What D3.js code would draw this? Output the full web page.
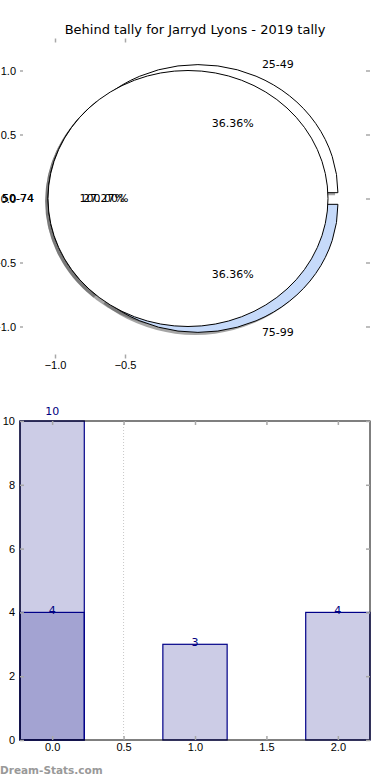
<!DOCTYPE html>
<html>
<head>
<meta charset="utf-8">
<script src="https://cdn.jsdelivr.net/npm/d3@7"></script>
<style>
    body { margin: 0; background: #fff; }
    svg { display: block; font-family: "DejaVu Sans", sans-serif; }
    .tick line { stroke: #a8a8a8; stroke-width: 1.5; }
    .domain { display: none; }
</style>
</head>
<body>
<svg id="chart" width="390" height="780"></svg>
<script>
/**
 * Data.
 */
const title = 'Behind tally for Jarryd Lyons - 2019 tally';

// Pie: tally by range, plus the single full wedge drawn on top
const pieLabels = ['25-49', '50-74', '75-99'],
    pieValues = [4, 3, 4],
    pieColors = ['#ffffff', '#ffffff', '#c6dafa'];
const fullLabels = ['50-74'],
    fullValues = [10];
const explode = 0.05;

// Bars
const barPositions = [0],
    barTotals = [10];
const behindPositions = [0, 1, 2],
    behindValues = [4, 3, 4];
const barWidth = 0.45;

const pieXTicks = [-1, -0.5],
    pieYTicks = [-1, -0.5, 0, 0.5, 1],
    barXTicks = [0, 0.5, 1, 1.5, 2],
    barYTicks = [0, 2, 4, 6, 8, 10];

/**
 * Layout.
 */
const svg = d3.select('#chart');
const pieBox = { left: 20, right: 370, top: 38.5, bottom: 358.5 },
    barBox = { left: 20, right: 370, top: 421, bottom: 740 };

const tickFmt = d => d3.format('.1f')(d).replace('-', '\u2212');
const fontSize = 11;

svg.append('text')
    .attr('x', 195).attr('y', 34)
    .attr('text-anchor', 'middle')
    .attr('font-size', 13)
    .text(title);

/**
 * Pie.
 */
const px = d3.scaleLinear().domain([-1.25, 1.25]).range([pieBox.left, pieBox.right]),
    py = d3.scaleLinear().domain([-1.25, 1.25]).range([pieBox.bottom, pieBox.top]);
const kx = px(1) - px(0), ky = py(0) - py(1);

const pie = d3.pie().sort(null).startAngle(0).endAngle(2 * Math.PI);
const arc = d3.arc().innerRadius(0).outerRadius(1);

// Wedge in matplotlib angles (counterclockwise from east), drawn in unit space
function wedges(values, labels, colors) {
    return pie(values).map((p, i) => {
        const mid = (p.startAngle + p.endAngle) / 2;
        return {
            label: labels[i],
            pct: d3.format('.2f')(100 * p.value / d3.sum(values)) + '%',
            color: colors[i],
            mid: mid,
            cx: explode * Math.cos(mid),
            cy: explode * Math.sin(mid),
            path: arc({ startAngle: Math.PI / 2 - p.endAngle, endAngle: Math.PI / 2 - p.startAngle })
        };
    });
}

const tally = wedges(pieValues, pieLabels, pieColors),
    full = wedges(fullValues, fullLabels, ['#ffffff']);
const allWedges = tally.concat(full);

const pieG = svg.append('g');

// Shadows under every wedge
pieG.selectAll('.shadow').data(allWedges).enter().append('path')
    .attr('class', 'shadow')
    .attr('transform', d => `translate(${px(d.cx - 0.02)},${py(d.cy - 0.02)}) scale(${kx},${ky})`)
    .attr('d', d => d.path)
    .attr('fill', '#4d4d4d')
    .attr('fill-opacity', 0.5);

pieG.selectAll('.wedge').data(allWedges).enter().append('path')
    .attr('class', 'wedge')
    .attr('transform', d => `translate(${px(d.cx)},${py(d.cy)}) scale(${kx},${ky})`)
    .attr('d', d => d.path)
    .attr('fill', d => d.color)
    .attr('stroke', '#000')
    .attr('stroke-width', 1)
    .attr('vector-effect', 'non-scaling-stroke');

// Labels and percentages
pieG.selectAll('.label').data(allWedges).enter().append('text')
    .attr('x', d => px(d.cx + 1.1 * Math.cos(d.mid)))
    .attr('y', d => py(d.cy + 1.1 * Math.sin(d.mid)))
    .attr('dy', '0.35em')
    .attr('text-anchor', d => Math.cos(d.mid) > 0 ? 'start' : 'end')
    .attr('font-size', fontSize)
    .text(d => d.label);

pieG.selectAll('.pct').data(allWedges).enter().append('text')
    .attr('x', d => px(d.cx + 0.6 * Math.cos(d.mid)))
    .attr('y', d => py(d.cy + 0.6 * Math.sin(d.mid)))
    .attr('dy', '0.35em')
    .attr('text-anchor', 'middle')
    .attr('font-size', fontSize)
    .text(d => d.pct);

// Pie axes: ticks only, no frame
svg.append('g').attr('transform', `translate(0,${pieBox.bottom})`)
    .call(d3.axisBottom(px).tickValues(pieXTicks).tickFormat(tickFmt).tickSizeInner(-4).tickPadding(3))
    .call(g => g.selectAll('text').attr('font-size', fontSize).attr('fill', '#000'));
svg.append('g').attr('transform', `translate(0,${pieBox.top})`)
    .call(d3.axisTop(px).tickValues(pieXTicks).tickFormat('').tickSizeInner(-4));
svg.append('g').attr('transform', `translate(${pieBox.left},0)`)
    .call(d3.axisLeft(py).tickValues(pieYTicks).tickFormat(tickFmt).tickSizeInner(-3).tickPadding(4))
    .call(g => g.selectAll('text').attr('font-size', fontSize).attr('fill', '#000'));
svg.append('g').attr('transform', `translate(${pieBox.right},0)`)
    .call(d3.axisRight(py).tickValues(pieYTicks).tickFormat('').tickSizeInner(-4));

/**
 * Bars.
 */
const bx = d3.scaleLinear().domain([-0.225, 2.225]).range([barBox.left, barBox.right]),
    by = d3.scaleLinear().domain([0, 10]).range([barBox.bottom, barBox.top]);

const barG = svg.append('g');

// Dotted grid line
barG.append('line')
    .attr('x1', bx(0.5)).attr('x2', bx(0.5))
    .attr('y1', by(10)).attr('y2', by(0))
    .attr('stroke', '#c8c8c8')
    .attr('stroke-dasharray', '1,2');

function drawBars(positions, values, cls) {
    barG.selectAll('.' + cls).data(values).enter().append('rect')
        .attr('class', cls)
        .attr('x', (d, i) => bx(positions[i] - barWidth / 2))
        .attr('width', bx(barWidth) - bx(0))
        .attr('y', d => by(d))
        .attr('height', d => by(0) - by(d))
        .attr('fill', 'navy')
        .attr('fill-opacity', 0.2)
        .attr('stroke', '#000088')
        .attr('stroke-width', 1.2);
}
drawBars(barPositions, barTotals, 'bar-total');
drawBars(behindPositions, behindValues, 'bar-behind');

// Value labels
barG.selectAll('.lbl-total').data(barTotals).enter().append('text')
    .attr('x', (d, i) => bx(barPositions[i]))
    .attr('y', d => by(d) - 6)
    .attr('text-anchor', 'middle')
    .attr('font-size', fontSize)
    .attr('fill', 'navy')
    .text(d => d);
barG.selectAll('.lbl-behind').data(behindValues).enter().append('text')
    .attr('x', (d, i) => bx(behindPositions[i]))
    .attr('y', d => by(d) + 2)
    .attr('text-anchor', 'middle')
    .attr('font-size', fontSize)
    .attr('fill', 'navy')
    .text(d => d);

// Frame
svg.append('rect')
    .attr('x', barBox.left).attr('y', barBox.top)
    .attr('width', barBox.right - barBox.left).attr('height', barBox.bottom - barBox.top)
    .attr('fill', 'none').attr('stroke', '#000').attr('stroke-width', 1);

// Bar axes
svg.append('g').attr('transform', `translate(0,${barBox.bottom})`)
    .call(d3.axisBottom(bx).tickValues(barXTicks).tickFormat(tickFmt).tickSizeInner(-4).tickPadding(3))
    .call(g => g.selectAll('text').attr('font-size', fontSize).attr('fill', '#000'));
svg.append('g').attr('transform', `translate(0,${barBox.top})`)
    .call(d3.axisTop(bx).tickValues(barXTicks).tickFormat('').tickSizeInner(-4));
svg.append('g').attr('transform', `translate(${barBox.left},0)`)
    .call(d3.axisLeft(by).tickValues(barYTicks).tickFormat(d3.format('d')).tickSizeInner(-4).tickPadding(5))
    .call(g => g.selectAll('text').attr('font-size', fontSize).attr('fill', '#000'));
svg.append('g').attr('transform', `translate(${barBox.right},0)`)
    .call(d3.axisRight(by).tickValues(barYTicks).tickFormat('').tickSizeInner(-4));

// Watermark
svg.append('text')
    .attr('x', 0).attr('y', 774)
    .attr('font-size', 10.5)
    .attr('font-weight', 'bold')
    .attr('fill', '#999')
    .text('Dream-Stats.com');
</script>
</body>
</html>
